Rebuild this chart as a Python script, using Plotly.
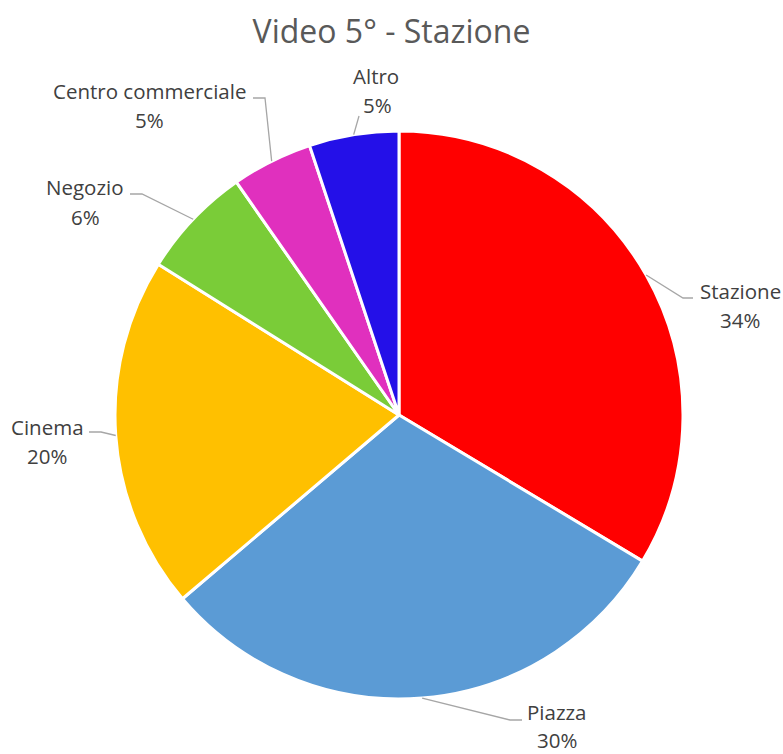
import math
import plotly.graph_objects as go

# Survey answers for "Video 5° - Stazione" (share of responses, %)
labels = ["Stazione", "Piazza", "Cinema", "Negozio", "Centro commerciale", "Altro"]
values = [33.6, 30.2, 20.1, 6.4, 4.6, 5.1]
colors = ["#FF0000", "#5B9BD5", "#FFC000", "#7ACC38", "#E030BE", "#2410E8"]

# Canvas / plot-area geometry in pixels
W, H = 783, 754
ML, MR, MT, MB = 115, 100, 131, 55
PW, PH = W - ML - MR, H - MT - MB
CX, CY = ML + PW / 2, MT + PH / 2
R = min(PW, PH) / 2

# Hand-placed callout layout (pixels): elbow, line end, name centre, value centre
callouts = {
    "Stazione": ((683, 298), (693, 298), (740, 291), (740, 320)),
    "Piazza": ((510, 720), (522, 720), (557, 712), (557, 740)),
    "Cinema": ((101, 432), (89, 432), (47, 427), (47, 456)),
    "Negozio": ((142, 194), (130, 194), (85, 187), (85, 217)),
    "Centro commerciale": ((265, 98), (253, 98), (149, 91), (149, 120)),
    "Altro": ((359, 116), (359, 116), (376, 76), (377, 105)),
}


def px(x):
    return (x - ML) / PW


def py(y):
    return (MT + PH - y) / PH


fig = go.Figure(
    go.Pie(
        labels=labels,
        values=values,
        sort=False,
        direction="clockwise",
        rotation=0,
        marker=dict(colors=colors, line=dict(color="white", width=3)),
        textinfo="none",
        hoverinfo="label+percent",
        showlegend=False,
    )
)

total = sum(values)
shapes, annotations = [], []
cum = 0.0
for lab, v in zip(labels, values):
    mid = (cum + v / 2) / total * 2 * math.pi
    cum += v
    ex, ey = CX + R * math.sin(mid), CY - R * math.cos(mid)
    (bx, by), (tx, ty), (nx, ny), (vx, vy) = callouts[lab]
    shapes.append(dict(
        type="path", xref="paper", yref="paper",
        path=f"M {px(ex)} {py(ey)} L {px(bx)} {py(by)} L {px(tx)} {py(ty)}",
        line=dict(color="#A6A6A6", width=1.3),
    ))
    font = dict(family="Open Sans", size=20.5, color="#404040")
    annotations.append(dict(
        text=lab, x=px(nx), y=py(ny), xref="paper", yref="paper",
        xanchor="center", yanchor="middle", showarrow=False, font=font,
        borderpad=0,
    ))
    annotations.append(dict(
        text=f"{round(v / total * 100)}%", x=px(vx), y=py(vy),
        xref="paper", yref="paper", xanchor="center", yanchor="middle",
        showarrow=False, font=font, borderpad=0,
    ))

fig.update_layout(
    width=W,
    height=H,
    margin=dict(l=ML, r=MR, t=MT, b=MB),
    paper_bgcolor="white",
    plot_bgcolor="white",
    title=dict(
        text="Video 5° - Stazione",
        x=0.5, xanchor="center",
        y=1 - 32 / H, yanchor="middle",
        font=dict(family="Open Sans", size=32, color="#595959"),
    ),
    shapes=shapes,
    annotations=annotations,
)

fig.write_html("out.html")
